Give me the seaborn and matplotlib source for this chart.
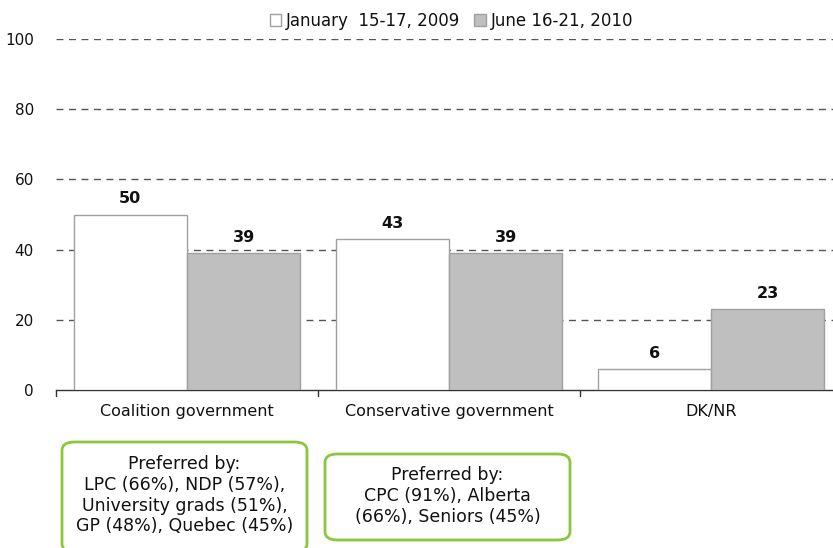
import pandas as pd
import matplotlib.pyplot as plt
import seaborn as sns
from matplotlib.patches import FancyBboxPatch

# data
categories = ["Coalition government", "Conservative government", "DK/NR"]
series = ["January  15-17, 2009", "June 16-21, 2010"]
jan_2009 = [50, 43, 6]
jun_2010 = [39, 39, 23]
notes = [
    "Preferred by:\nLPC (66%), NDP (57%),\nUniversity grads (51%),\nGP (48%), Quebec (45%)",
    "Preferred by:\nCPC (91%), Alberta\n(66%), Seniors (45%)",
]

df = pd.DataFrame({
    "category": categories * 2,
    "period": [series[0]] * 3 + [series[1]] * 3,
    "value": jan_2009 + jun_2010,
})

sns.set_style("white")
plt.rcParams["font.family"] = ["DejaVu Sans"]
plt.rcParams["text.color"] = "#111111"
plt.rcParams["xtick.color"] = "#111111"
plt.rcParams["ytick.color"] = "#111111"

fig = plt.figure(figsize=(8.33, 5.48), dpi=100)
# the axes run a little past the right edge, like in the original
ax = fig.add_axes([0.0672, 0.2883, 0.9436, 0.6405])

sns.barplot(data=df, x="category", y="value", hue="period", order=categories,
            hue_order=series, palette=["white", "#bfbfbf"], width=0.866,
            edgecolor="#a0a0a0", linewidth=1, saturation=1, ax=ax, zorder=3)

ax.set_ylim(0, 100)
ax.set_xlim(-0.5, 2.5)
ax.set_yticks(range(0, 101, 20))
ax.tick_params(axis="y", length=0, labelsize=11, pad=16)
ax.tick_params(axis="x", length=0, labelsize=11.5, pad=10)
for y in range(20, 101, 20):
    ax.axhline(y, color="#555555", lw=1, ls=(0, (5, 4)), zorder=1)
for sp in ["top", "right", "left"]:
    ax.spines[sp].set_visible(False)
ax.spines["bottom"].set_color("#333333")
ax.spines["bottom"].set_linewidth(1)
# category boundary ticks
for xb in [-0.5, 0.5, 1.5, 2.5]:
    ax.plot([xb, xb], [0, -1.8], color="#333333", lw=1, clip_on=False)
ax.set_xlabel("")
ax.set_ylabel("")

for cont in ax.containers:
    ax.bar_label(cont, fmt="%d", padding=6, fontsize=11.5, fontweight="bold")

leg = ax.legend(loc="lower center", bbox_to_anchor=(0.503, 1.0), ncol=2,
                frameon=False, fontsize=12, handlelength=0.7, handleheight=0.7,
                handletextpad=0.3, columnspacing=0.8, borderaxespad=0.15)

# green note boxes under the first two categories
boxes = [(62, 442, 245, 110, 13), (325, 454, 245, 86, 12)]
for (bx, by, bw, bh, pad), txt in zip(boxes, notes):
    x0, y0 = bx / 833, 1 - (by + bh) / 548
    p = FancyBboxPatch((x0, y0), bw / 833, bh / 548,
                       boxstyle="round,pad=0,rounding_size=0.015",
                       transform=fig.transFigure, facecolor="white",
                       edgecolor="#8cc63e", lw=2, clip_on=False)
    fig.patches.append(p)
    ty = 1 - (by + pad) / 548
    fig.text(x0 + bw / 833 / 2, ty, txt, ha="center", va="top",
             fontsize=12.5, linespacing=1.2)

fig.savefig("out.png", dpi=100)
